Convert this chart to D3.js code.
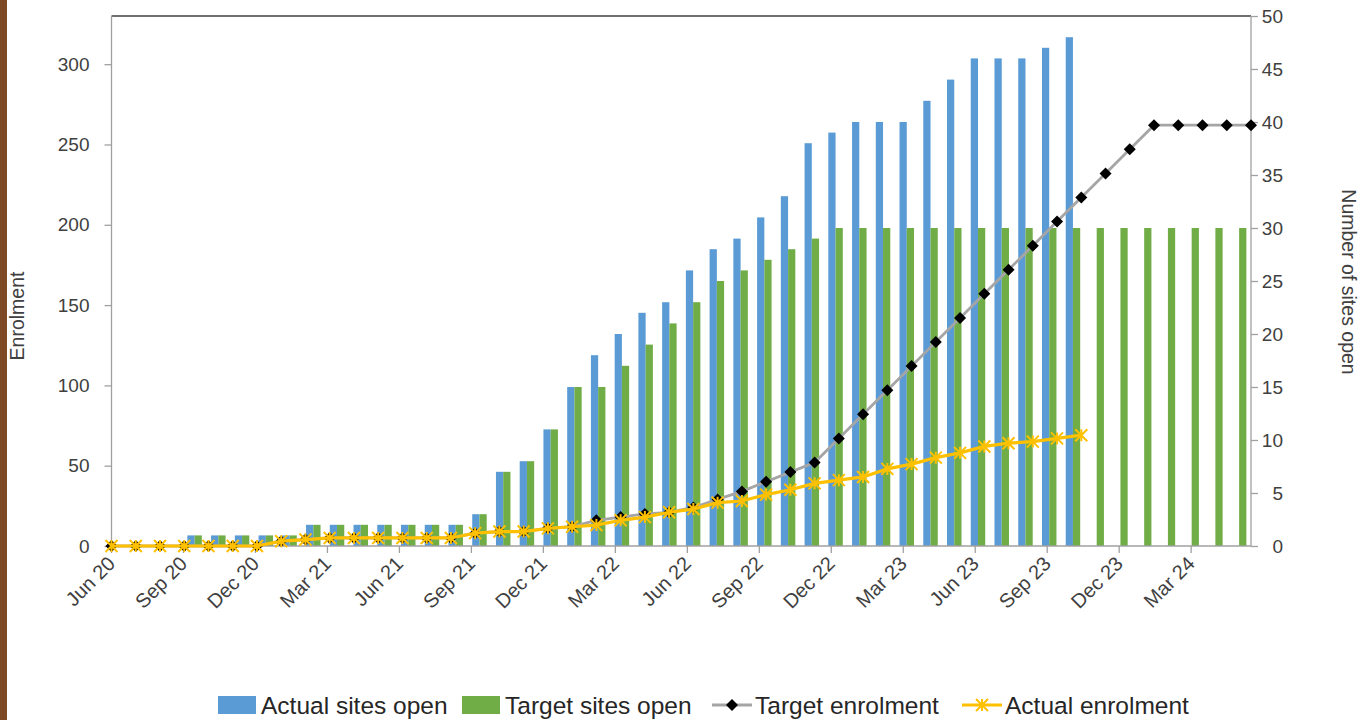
<!DOCTYPE html>
<html><head><meta charset="utf-8">
<script src="https://cdn.jsdelivr.net/npm/d3@7"></script>
<style>html,body{margin:0;padding:0;background:#fff;} svg{display:block;}</style>
</head><body>
<svg id="chart" width="1367" height="720"></svg>
<script>
const months = ["Jun 20","Jul 20","Aug 20","Sep 20","Oct 20","Nov 20","Dec 20","Jan 21","Feb 21","Mar 21","Apr 21","May 21","Jun 21","Jul 21","Aug 21","Sep 21","Oct 21","Nov 21","Dec 21","Jan 22","Feb 22","Mar 22","Apr 22","May 22","Jun 22","Jul 22","Aug 22","Sep 22","Oct 22","Nov 22","Dec 22","Jan 23","Feb 23","Mar 23","Apr 23","May 23","Jun 23","Jul 23","Aug 23","Sep 23","Oct 23","Nov 23","Dec 23","Jan 24","Feb 24","Mar 24","Apr 24","May 24"];
const tickLabels = ["Jun 20","Sep 20","Dec 20","Mar 21","Jun 21","Sep 21","Dec 21","Mar 22","Jun 22","Sep 22","Dec 22","Mar 23","Jun 23","Sep 23","Dec 23","Mar 24"];
const actualSites = [0,0,0,1,1,1,1,1,2,2,2,2,2,2,2,3,7,8,11,15,18,20,22,23,26,28,29,31,33,38,39,40,40,40,42,44,46,46,46,47,48,null,null,null,null,null,null,null];
const targetSites = [0,0,0,1,1,1,1,1,2,2,2,2,2,2,2,3,7,8,11,15,15,17,19,21,23,25,26,27,28,29,30,30,30,30,30,30,30,30,30,30,30,30,30,30,30,30,30,30];
const targetEnrol = [0,0,0,0,0,0,0,3,4,5,5,5,5,5,5,8,9,9,11,12,16,18,20,21,24,29,34,40,46,52,67,82,97,112,127,142,157,172,187,202,217,232,247,262,262,262,262,262];
const actualEnrol = [0,0,0,0,0,0,0,3,4,5,5,5,5,5,5,8,9,9,11,12,13,16,18,21,23,27,28,32,35,39,41,43,48,51,55,58,62,64,65,67,69,null,null,null,null,null,null,null];
const leftTicks = [0,50,100,150,200,250,300];
const rightTicks = [0,5,10,15,20,25,30,35,40,45,50];
const seriesNames = ["Actual sites open","Target sites open","Target enrolment","Actual enrolment"];

const W = 1367, H = 720;
const P = {left:111.5, right:1251, top:16, bottom:546};
const FONT = "'Liberation Sans',Arial,sans-serif";
const C = {blue:"#5B9BD5", green:"#70AD47", gray:"#A5A5A5", gold:"#FFC000", axis:"#A0A0A0", text:"#404040"};

const svg = d3.select("#chart");
svg.append("rect").attr("width",W).attr("height",H).attr("fill","#fff");
svg.append("rect").attr("x",0).attr("y",0).attr("width",7).attr("height",H).attr("fill","#7E4A26");

const xBand = d3.scaleBand().domain(months).range([P.left,P.right]).padding(0);
const xPt = d3.scalePoint().domain(months).range([P.left,P.right]);
const yL = d3.scaleLinear().domain([0,330]).range([P.bottom,P.top]);
const yR = d3.scaleLinear().domain([0,50]).range([P.bottom,P.top]);
const bw = xBand.bandwidth()*0.305;

// bars
const g = svg.append("g");
g.selectAll("rect.a").data(months.map((m,i)=>({m,v:actualSites[i]})).filter(d=>d.v!=null && d.v>0))
 .join("rect").attr("x",d=>xBand(d.m)+xBand.bandwidth()/2-bw).attr("width",bw)
 .attr("y",d=>yR(d.v)).attr("height",d=>yR(0)-yR(d.v)).attr("fill",C.blue);
g.selectAll("rect.t").data(months.map((m,i)=>({m,v:targetSites[i]})).filter(d=>d.v!=null && d.v>0))
 .join("rect").attr("x",d=>xBand(d.m)+xBand.bandwidth()/2).attr("width",bw)
 .attr("y",d=>yR(d.v)).attr("height",d=>yR(0)-yR(d.v)).attr("fill",C.green);

// frame / axes lines
svg.append("line").attr("x1",P.left).attr("x2",P.right).attr("y1",P.top).attr("y2",P.top).attr("stroke","#404040").attr("stroke-width",1.5);
svg.append("line").attr("x1",P.left).attr("x2",P.left).attr("y1",P.top).attr("y2",P.bottom).attr("stroke",C.axis).attr("stroke-width",1.3);
svg.append("line").attr("x1",P.right).attr("x2",P.right).attr("y1",P.top).attr("y2",P.bottom).attr("stroke",C.axis).attr("stroke-width",1.3);
svg.append("line").attr("x1",P.left).attr("x2",P.right).attr("y1",P.bottom).attr("y2",P.bottom).attr("stroke",C.axis).attr("stroke-width",1.3);

// left axis
const la = svg.append("g").attr("transform",`translate(${P.left},0)`)
  .call(d3.axisLeft(yL).tickValues(leftTicks).tickSize(7).tickPadding(15));
la.select(".domain").remove();
la.selectAll(".tick line").attr("stroke",C.axis).attr("stroke-width",1.3);
la.selectAll(".tick text").attr("font-family",FONT).attr("font-size",19).attr("fill",C.text);

// right axis
const ra = svg.append("g").attr("transform",`translate(${P.right},0)`)
  .call(d3.axisRight(yR).tickValues(rightTicks).tickSize(7).tickPadding(25));
ra.select(".domain").remove();
ra.selectAll(".tick line").attr("stroke",C.axis).attr("stroke-width",1.3);
ra.selectAll(".tick text").attr("font-family",FONT).attr("font-size",19).attr("fill",C.text).attr("text-anchor","end");

// bottom ticks & labels (date-axis ticks between band edge and point positions)
const tickX = m => (xBand(m) + xPt(m))/2;
const ba = svg.append("g");
ba.selectAll("line").data(tickLabels).join("line")
  .attr("x1",tickX).attr("x2",tickX).attr("y1",P.bottom).attr("y2",P.bottom+7)
  .attr("stroke",C.axis).attr("stroke-width",1.3);
ba.selectAll("text").data(tickLabels).join("text")
  .attr("transform",d=>`translate(${tickX(d)},${P.bottom+14}) rotate(-45)`)
  .attr("text-anchor","end").attr("dy","0.35em")
  .attr("font-family",FONT).attr("font-size",20).attr("fill",C.text).text(d=>d);

// lines
const diamond = r => `M0,${-r}L${r},0L0,${r}L${-r},0Z`;
const starPath = r => `M${-r},${-r}L${r},${r}M${-r},${r}L${r},${-r}M0,${-r}L0,${r}`;

const tData = months.map((m,i)=>({m,v:targetEnrol[i]})).filter(d=>d.v!=null);
const aData = months.map((m,i)=>({m,v:actualEnrol[i]})).filter(d=>d.v!=null);
const line = d3.line().x(d=>xPt(d.m)).y(d=>yL(d.v));

svg.append("path").datum(tData).attr("d",line).attr("fill","none").attr("stroke",C.gray).attr("stroke-width",2.8);
svg.append("g").selectAll("path").data(tData).join("path")
  .attr("transform",d=>`translate(${xPt(d.m)},${yL(d.v)})`).attr("d",diamond(6)).attr("fill","#000");

svg.append("path").datum(aData).attr("d",line).attr("fill","none").attr("stroke",C.gold).attr("stroke-width",3.2);
svg.append("g").selectAll("path").data(aData).join("path")
  .attr("transform",d=>`translate(${xPt(d.m)},${yL(d.v)})`).attr("d",starPath(6)).attr("fill","none")
  .attr("stroke",C.gold).attr("stroke-width",2);

// axis titles
svg.append("text").attr("transform","translate(24,316) rotate(-90)").attr("text-anchor","middle")
  .attr("font-family",FONT).attr("font-size",19.5).attr("fill",C.text).text("Enrolment");
svg.append("text").attr("transform","translate(1342,282) rotate(90)").attr("text-anchor","middle")
  .attr("font-family",FONT).attr("font-size",19.5).attr("fill",C.text).text("Number of sites open");

// legend
const LY = 705;
const leg = svg.append("g").attr("font-family",FONT).attr("font-size",24.5).attr("fill","#262626");
const items = [
  {x:218, type:"rect", color:C.blue},
  {x:462, type:"rect", color:C.green},
  {x:712, type:"diamond"},
  {x:962, type:"star"}
];
items.forEach((it,i)=>{
  if(it.type==="rect"){
    leg.append("rect").attr("x",it.x).attr("y",LY-9).attr("width",38).attr("height",18).attr("fill",it.color);
  } else if(it.type==="diamond"){
    leg.append("line").attr("x1",it.x).attr("x2",it.x+40).attr("y1",LY).attr("y2",LY).attr("stroke",C.gray).attr("stroke-width",2.8);
    leg.append("path").attr("transform",`translate(${it.x+20},${LY})`).attr("d",diamond(6)).attr("fill","#000");
  } else {
    leg.append("line").attr("x1",it.x).attr("x2",it.x+40).attr("y1",LY).attr("y2",LY).attr("stroke",C.gold).attr("stroke-width",3.2);
    leg.append("path").attr("transform",`translate(${it.x+20},${LY})`).attr("d",starPath(6)).attr("fill","none").attr("stroke",C.gold).attr("stroke-width",2);
  }
  leg.append("text").attr("x",it.x+43).attr("y",LY).attr("dy","0.36em").text(seriesNames[i]);
});
</script>
</body></html>
